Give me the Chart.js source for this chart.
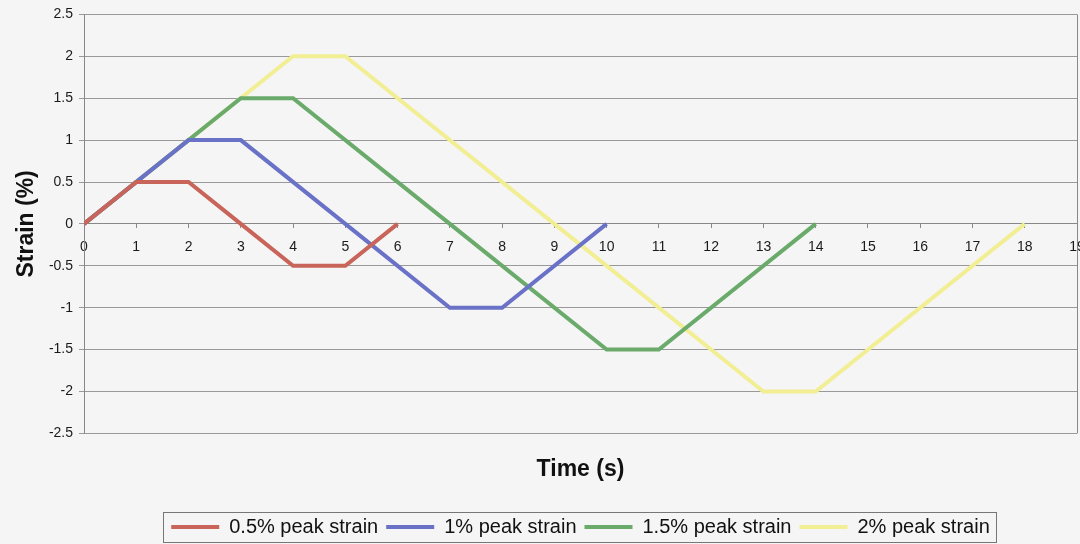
<!DOCTYPE html>
<html><head><meta charset="utf-8">
<script src="https://cdn.jsdelivr.net/npm/chart.js@4"></script>
<style>html,body{margin:0;padding:0;background:#f5f5f5;}#wrap{width:1080px;height:544px;}</style>
</head><body><div id="wrap"><canvas id="c" width="1080" height="544"></canvas></div>
<script>
const seriesNames = ["0.5% peak strain", "1% peak strain", "1.5% peak strain", "2% peak strain"];
const time05 = [0, 1, 2, 3, 4, 5, 6];
const strain05 = [0, 0.5, 0.5, 0, -0.5, -0.5, 0];
const time1 = [0, 2, 3, 5, 7, 8, 10];
const strain1 = [0, 1, 1, 0, -1, -1, 0];
const time15 = [0, 3, 4, 7, 10, 11, 14];
const strain15 = [0, 1.5, 1.5, 0, -1.5, -1.5, 0];
const time2 = [0, 4, 5, 9, 13, 14, 18];
const strain2 = [0, 2, 2, 0, -2, -2, 0];
const colors = ["#c8645a", "#6a72c8", "#6aaa6a", "#f2ee94"];

const toPts = (xs, ys) => xs.map((x, i) => ({x: x, y: ys[i]}));
const allData = [toPts(time05, strain05), toPts(time1, strain1), toPts(time15, strain15), toPts(time2, strain2)];
const FONT = "'Liberation Sans', Arial, sans-serif";

const framePlugin = {
  id: 'frame',
  afterLayout(chart) {
    const lg = chart.legend, a = chart.chartArea;
    if (lg) {
      lg.left = a.left; lg.right = a.right; lg.width = a.right - a.left;
      lg.top += 3; lg.bottom += 3;
    }
  },
  afterDraw(chart) {
    const ctx = chart.ctx, a = chart.chartArea;
    ctx.save();
    ctx.strokeStyle = '#888';
    ctx.lineWidth = 1;
    ctx.beginPath();
    ctx.moveTo(Math.round(a.right) + 0.5, a.top);
    ctx.lineTo(Math.round(a.right) + 0.5, a.bottom);
    ctx.stroke();
    const hb = chart.legend.legendHitBoxes;
    if (hb && hb.length) {
      let l = Infinity, r = -Infinity, t = Infinity, b = -Infinity;
      hb.forEach(h => { l = Math.min(l, h.left); r = Math.max(r, h.left + h.width); t = Math.min(t, h.top); b = Math.max(b, h.top + h.height); });
      ctx.strokeStyle = '#777';
      ctx.strokeRect(Math.round(l - 8) + 0.5, Math.round(t - 5) + 0.5, Math.round(r - l + 14), Math.round(b - t + 10));
    }
    ctx.restore();
  }
};

new Chart(document.getElementById('c'), {
  type: 'line',
  data: {
    datasets: allData.map((d, i) => ({
      label: seriesNames[i], data: d, borderColor: colors[i], backgroundColor: colors[i],
      borderWidth: 4, pointRadius: 0, tension: 0, fill: false, xAxisID: 'x', yAxisID: 'y'
    }))
  },
  options: {
    responsive: false, animation: false,
    layout: { padding: { top: 13, right: 3, left: 0, bottom: 0 } },
    plugins: {
      tooltip: { enabled: false },
      legend: {
        position: 'bottom',
        labels: {
          usePointStyle: true, pointStyle: 'line', pointStyleWidth: 48, boxHeight: 20,
          font: { family: FONT, size: 20 }, color: '#111', padding: 8
        }
      }
    },
    scales: {
      x: {
        type: 'linear', min: 0, max: 19, position: { y: 0 },
        ticks: { stepSize: 1, font: { family: FONT, size: 14 }, color: '#1a1a1a', padding: 11, autoSkip: false, maxRotation: 0 },
        grid: { display: true, drawOnChartArea: false, drawTicks: true, tickLength: 4, color: '#888' },
        border: { display: true, color: '#888' },
        afterFit(s) { s.paddingLeft = 0; s.paddingRight = 0; }
      },
      xb: {
        type: 'linear', min: 0, max: 19, position: 'bottom',
        ticks: { display: false }, grid: { display: false }, border: { display: false },
        title: { display: true, text: 'Time (s)', font: { family: FONT, size: 23, weight: 'bold' }, color: '#111', padding: { top: 14, bottom: 23 } },
        afterFit(s) { s.paddingLeft = 0; s.paddingRight = 0; }
      },
      y: {
        type: 'linear', min: -2.5, max: 2.5,
        ticks: { stepSize: 0.5, font: { family: FONT, size: 14 }, color: '#1a1a1a', padding: 6, callback: v => String(v) },
        grid: { color: '#999', tickLength: 5, drawTicks: true },
        border: { display: true, color: '#888' },
        title: { display: true, text: 'Strain (%)', font: { family: FONT, size: 23, weight: 'bold' }, color: '#111', padding: { top: 13, bottom: 0 } },
        afterFit(s) { s.width = 84; }
      }
    }
  },
  plugins: [framePlugin]
});
</script></body></html>
